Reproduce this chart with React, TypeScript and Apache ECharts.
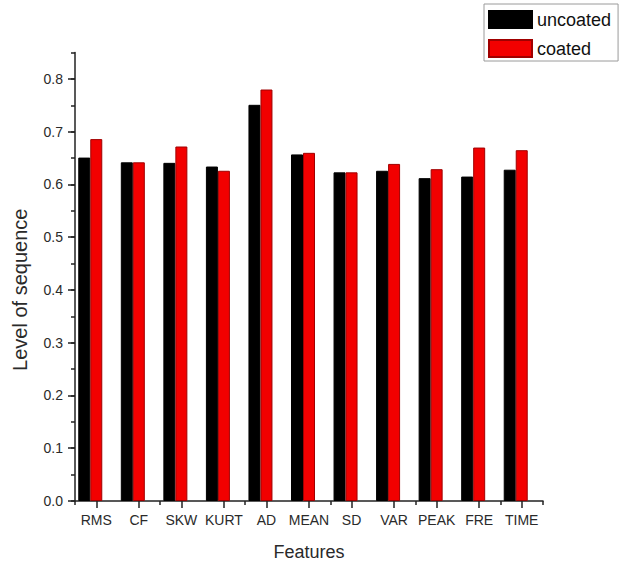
import React, { useEffect, useRef } from "react";
import * as echarts from "echarts";

// Feature names along the x axis
const features = ["RMS", "CF", "SKW", "KURT", "AD", "MEAN", "SD", "VAR", "PEAK", "FRE", "TIME"];

// Level of sequence for each feature
const uncoated = [0.651, 0.642, 0.641, 0.634, 0.751, 0.657, 0.623, 0.626, 0.612, 0.615, 0.628];
const coated = [0.686, 0.642, 0.672, 0.626, 0.780, 0.660, 0.623, 0.639, 0.629, 0.670, 0.665];

// Labelled (major) ticks on the value axis
const majorTicks = [0, 0.1, 0.2, 0.3, 0.4, 0.5, 0.6, 0.7, 0.8];

const AXIS = "#222";
const TEXT = "#2a2a2a";
const FONT = "Liberation Sans, Arial, sans-serif";

export default function App() {
  const ref = useRef<HTMLDivElement>(null);

  useEffect(() => {
    if (!ref.current) return;
    const chart = echarts.init(ref.current, null, { renderer: "svg" });

    const valueAxisBase = {
      type: "value" as const,
      min: 0,
      max: 0.85,
      interval: 0.05,
      position: "left" as const,
      splitLine: { show: false },
    };

    chart.setOption({
      animation: false,
      backgroundColor: "#fff",
      textStyle: { fontFamily: FONT },
      grid: { left: 75, right: 79, top: 52.6, bottom: 65 },
      legend: {
        data: ["uncoated", "coated"],
        orient: "vertical",
        left: 484,
        top: 4,
        icon: "rect",
        itemWidth: 43,
        itemHeight: 17,
        itemGap: 10,
        padding: [6, 7, 3, 4],
        borderColor: "#9a9a9a",
        borderWidth: 1,
        textStyle: { fontSize: 18, color: "#111", fontFamily: FONT },
      },
      xAxis: [
        {
          type: "category",
          data: features,
          name: "Features",
          nameLocation: "middle",
          nameGap: 42,
          nameTextStyle: { fontSize: 18, color: TEXT, fontFamily: FONT },
          axisLine: { show: true, lineStyle: { color: AXIS, width: 1.5 } },
          axisTick: { show: true, alignWithLabel: true, length: 7, lineStyle: { color: AXIS, width: 1.5 } },
          axisLabel: { fontSize: 14, color: TEXT, margin: 12, interval: 0, fontFamily: FONT },
        },
        {
          type: "category",
          data: features,
          position: "bottom",
          axisLine: { show: false },
          axisTick: { show: true, length: 4, lineStyle: { color: AXIS, width: 1.5 } },
          axisLabel: { show: false },
        },
      ],
      yAxis: [
        {
          ...valueAxisBase,
          name: "Level of sequence",
          nameLocation: "middle",
          nameGap: 45,
          nameTextStyle: { fontSize: 20, color: TEXT, fontFamily: FONT, padding: [0, 26, 0, 0] },
          axisLine: { show: true, lineStyle: { color: AXIS, width: 1.5 } },
          axisTick: { show: true, length: 4, lineStyle: { color: AXIS, width: 1.5 } },
          axisLabel: {
            customValues: majorTicks,
            formatter: (v: number) => v.toFixed(1),
            fontSize: 14,
            color: TEXT,
            margin: 12,
            fontFamily: FONT,
          },
        },
        {
          ...valueAxisBase,
          axisLine: { show: false },
          axisTick: { show: true, customValues: majorTicks, length: 7, lineStyle: { color: AXIS, width: 1.5 } },
          axisLabel: { show: false },
        },
      ],
      series: [
        {
          name: "uncoated",
          type: "bar",
          data: uncoated,
          barWidth: 12,
          barGap: "0%",
          itemStyle: { color: "#000", borderColor: "#000", borderWidth: 1 },
        },
        {
          name: "coated",
          type: "bar",
          data: coated,
          barWidth: 12,
          barGap: "0%",
          itemStyle: { color: "#f20000", borderColor: "#a00000", borderWidth: 1 },
        },
        {
          // empty slot to the right so each pair sits left of its tick, red bar on the tick
          name: "spacer",
          type: "bar",
          data: [],
          barWidth: 12,
          barGap: "0%",
          silent: true,
        },
      ],
    });

    return () => chart.dispose();
  }, []);

  return (
    <div
      ref={ref}
      style={{ position: "fixed", left: 0, top: 0, width: 622, height: 566, background: "#fff" }}
    />
  );
}
